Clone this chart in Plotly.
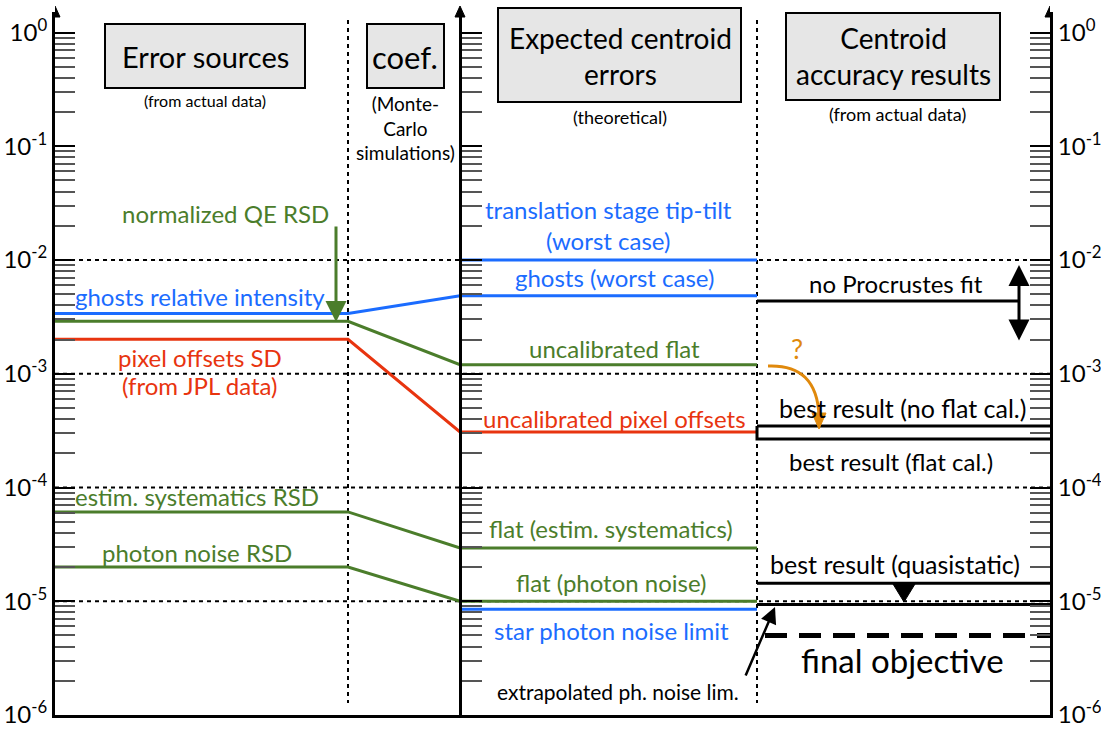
import plotly.graph_objects as go

# ---------------- data ----------------
source_labels = ["ghosts relative intensity", "normalized QE RSD", "pixel offsets SD",
                 "estim. systematics RSD", "photon noise RSD"]
source_values = [3.38e-3, 2.89e-3, 2.01e-3, 6.1e-5, 2.0e-5]          # Error sources column
expected_labels = ["ghosts (worst case)", "uncalibrated flat", "uncalibrated pixel offsets",
                   "flat (estim. systematics)", "flat (photon noise)"]
expected_values = [4.85e-3, 1.2e-3, 3.08e-4, 2.94e-5, 1.0e-5]        # Expected centroid errors
source_colors = ["#1b6cff", "#4b7d2b", "#e8340f", "#4b7d2b", "#4b7d2b"]

theory_labels = ["translation stage tip-tilt", "star photon noise limit"]
theory_values = [1.0e-2, 8.5e-6]
theory_colors = ["#1b6cff", "#1b6cff"]

result_labels = ["no Procrustes fit", "best result (no flat cal.)", "best result (flat cal.)",
                 "best result (quasistatic)", "extrapolated ph. noise lim.", "final objective"]
result_values = [4.36e-3, 3.47e-4, 2.67e-4, 1.44e-5, 9.35e-6, 5.0e-6]

decade_vals = [1e-6, 1e-5, 1e-4, 1e-3, 1e-2, 1e-1, 1e0]
decade_text = ["10<sup>-6</sup>", "10<sup>-5</sup>", "10<sup>-4</sup>", "10<sup>-3</sup>",
               "10<sup>-2</sup>", "10<sup>-1</sup>", "10<sup>0</sup>"]
dashed_decades = [1e-2, 1e-3, 1e-4, 1e-5]

# ---------------- layout geometry ----------------
W, H = 1101, 729
Y_BOT, Y_TOP_AXIS, PX_DEC = 715, 12, 113.75
LOG_MIN = -6
LOG_TOP = LOG_MIN + (Y_BOT - Y_TOP_AXIS) / PX_DEC
X_L, X_COEF, X_MID, X_RES, X_R = 55, 348, 460, 757, 1050

BLUE, GREEN, RED, ORANGE = "#1b6cff", "#4b7d2b", "#e8340f", "#e0890c"
FONT = "Lato, 'Open Sans', sans-serif"
LBL = 24


def py(p):
    return 1 - p / H


minor_vals = [m * 10 ** k for k in range(-6, 0) for m in range(2, 10)]

fig = go.Figure()

# source -> expected lines
for v_s, v_e, c in zip(source_values, expected_values, source_colors):
    fig.add_trace(go.Scatter(x=[X_L, X_COEF, X_MID, X_RES], y=[v_s, v_s, v_e, v_e],
                             mode="lines", line=dict(color=c, width=3), hoverinfo="skip"))
for v, c in zip(theory_values, theory_colors):
    fig.add_trace(go.Scatter(x=[X_MID, X_RES], y=[v, v], mode="lines",
                             line=dict(color=c, width=3), hoverinfo="skip"))

# results
fig.add_trace(go.Scatter(x=[X_RES, 1019], y=[result_values[0]] * 2, mode="lines",
                         line=dict(color="black", width=3), hoverinfo="skip"))
fig.add_trace(go.Scatter(x=[X_RES, X_R], y=[result_values[1]] * 2, mode="lines",
                         line=dict(color="black", width=3), hoverinfo="skip"))
fig.add_trace(go.Scatter(x=[X_RES, X_RES, X_R], y=[result_values[1], result_values[2], result_values[2]],
                         mode="lines", line=dict(color="black", width=3), hoverinfo="skip"))
fig.add_trace(go.Scatter(x=[X_RES, X_R], y=[result_values[3]] * 2, mode="lines",
                         line=dict(color="black", width=3), hoverinfo="skip"))
fig.add_trace(go.Scatter(x=[X_RES, X_R], y=[result_values[4]] * 2, mode="lines",
                         line=dict(color="black", width=3), hoverinfo="skip"))
fig.add_trace(go.Scatter(x=[765, X_R], y=[result_values[5]] * 2, mode="lines",
                         line=dict(color="black", width=5, dash="22px,12px"), hoverinfo="skip"))

# dummy traces to materialise the extra axes
fig.add_trace(go.Scatter(x=[None], y=[None], yaxis="y2", hoverinfo="skip"))
fig.add_trace(go.Scatter(x=[None], y=[None], yaxis="y3", hoverinfo="skip"))

ydom = [1 - Y_BOT / H, 1 - Y_TOP_AXIS / H]
common_y = dict(type="log", range=[LOG_MIN, LOG_TOP], domain=ydom, showgrid=False,
                zeroline=False, showline=True, linecolor="black", linewidth=3,
                tickmode="array", tickvals=decade_vals, ticktext=decade_text,
                ticks="inside", ticklen=20, tickwidth=1.5, tickcolor="black",
                tickfont=dict(family=FONT, size=24, color="black"),
                minor=dict(tickmode="array", tickvals=minor_vals, ticks="inside",
                           ticklen=20, tickwidth=1.5, tickcolor="#555555", showgrid=False),
                fixedrange=True, automargin=False)

fig.update_layout(
    template="none",
    width=W, height=H, margin=dict(l=0, r=0, t=0, b=0, pad=0, autoexpand=False),
    paper_bgcolor="white", plot_bgcolor="white", showlegend=False,
    xaxis=dict(range=[X_L, X_R], domain=[X_L / W, X_R / W], showgrid=False, zeroline=False,
               showline=True, linecolor="black", linewidth=2.5, showticklabels=False,
               ticks="", fixedrange=True, anchor="y", automargin=False),
    yaxis=dict(**common_y, anchor="x", side="left"),
    yaxis2=dict(**common_y, overlaying="y", anchor="free", position=X_MID / W,
                side="left"),
    yaxis3=dict(**common_y, overlaying="y", anchor="x", side="right"),
)
fig.update_layout(yaxis2=dict(showticklabels=False))

shapes = []
# dotted decade lines
for d in dashed_decades:
    shapes.append(dict(type="line", xref="x", yref="y", x0=X_L, x1=X_R, y0=d, y1=d,
                       line=dict(color="black", width=2, dash="4px,4px"), layer="below"))
# dotted column separators
for xs in [X_COEF, X_RES]:
    shapes.append(dict(type="line", xref="x", yref="paper", x0=xs, x1=xs, y0=py(20), y1=py(703),
                       line=dict(color="black", width=2, dash="4px,4px"), layer="below"))
# axis arrowheads
for xa in [X_L, X_MID, X_R]:
    shapes.append(dict(type="path", xref="x", yref="paper",
                       path=f"M {xa - 5},{py(17)} L {xa},{py(6)} L {xa + 5},{py(17)} Z",
                       fillcolor="black", line=dict(color="black", width=1)))
# header boxes
for (x0, x1, y0, y1) in [(105, 305, 24, 88), (367, 444, 24, 88), (498, 741, 8, 102), (786, 1000, 13, 100)]:
    shapes.append(dict(type="rect", xref="x", yref="paper", x0=x0, x1=x1, y0=py(y0), y1=py(y1),
                       fillcolor="#e6e6e6", line=dict(color="black", width=2)))
# downward triangle marker between quasistatic and extrapolated
shapes.append(dict(type="path", xref="x", yref="paper",
                   path=f"M 893,{py(584)} L 915,{py(584)} L 904,{py(602)} Z",
                   fillcolor="black", line=dict(color="black", width=1)))
# orange curved arrow
shapes.append(dict(type="path", xref="x", yref="paper",
                   path=f"M 768,{py(366)} Q 817,{py(364)} 819,{py(416)}",
                   line=dict(color=ORANGE, width=3)))
shapes.append(dict(type="path", xref="x", yref="paper",
                   path=f"M 812,{py(413)} L 826,{py(413)} L 819,{py(429)} Z",
                   fillcolor=ORANGE, line=dict(color=ORANGE, width=1)))
fig.update_layout(shapes=shapes)

ann = []


def txt(x, y, s, color="black", size=LBL):
    ann.append(dict(x=x, y=py(y), xref="x", yref="paper", text=s, showarrow=False,
                    xanchor="center", yanchor="middle",
                    font=dict(family=FONT, size=size, color=color)))


# headers
txt(205, 57, "Error sources", size=29)
txt(205, 101, "(from actual data)", size=16)
txt(405, 57, "coef.", size=31)
txt(405, 128, "(Monte-<br>Carlo<br>simulations)", size=19)
txt(620, 56, "Expected centroid<br>errors", size=28)
txt(620, 117, "(theoretical)", size=18)
txt(893, 56, "Centroid<br>accuracy results", size=28)
txt(897, 114, "(from actual data)", size=18)

# left column
txt(225, 213, source_labels[1], GREEN)
txt(200, 296, source_labels[0], BLUE)
txt(200, 357, source_labels[2], RED)
txt(200, 385, "(from JPL data)", RED)
txt(197, 496, source_labels[3], GREEN)
txt(197, 552, source_labels[4], GREEN)

# middle column
txt(608, 209, theory_labels[0], BLUE)
txt(608, 240, "(worst case)", BLUE)
txt(614, 277, expected_labels[0], BLUE)
txt(614, 348, expected_labels[1], GREEN)
txt(614, 418, expected_labels[2], RED)
txt(611, 528, expected_labels[3], GREEN)
txt(611, 582, expected_labels[4], GREEN)
txt(611, 630, theory_labels[1], BLUE)
txt(618, 691, result_labels[4], "black", 21)

# right column
txt(896, 283, result_labels[0])
txt(902, 408, result_labels[1], size=25)
txt(891, 461, result_labels[2])
txt(895, 564, result_labels[3], size=25)
txt(902, 660, result_labels[5], "black", 33)
txt(797, 348, "?", ORANGE, 27)

# arrows
ann.append(dict(x=336, y=py(322), xref="x", yref="paper", ax=0, ay=-97, text="",
                showarrow=True, arrowhead=2, arrowsize=1.4, arrowwidth=3, arrowcolor=GREEN))
ann.append(dict(x=775, y=py(607), xref="x", yref="paper", ax=-30, ay=70, text="",
                showarrow=True, arrowhead=2, arrowsize=1.3, arrowwidth=2.5, arrowcolor="black"))
ann.append(dict(x=1019, y=py(265), xref="x", yref="paper", ax=0, ay=77, text="",
                showarrow=True, arrowhead=2, startarrowhead=2, arrowside="end+start",
                arrowsize=1.4, arrowwidth=3, arrowcolor="black"))
fig.update_layout(annotations=ann)

fig.write_html("out.html", config={"displayModeBar": False},
               post_script="document.body.style.margin='0px';document.body.style.overflow='hidden';")
